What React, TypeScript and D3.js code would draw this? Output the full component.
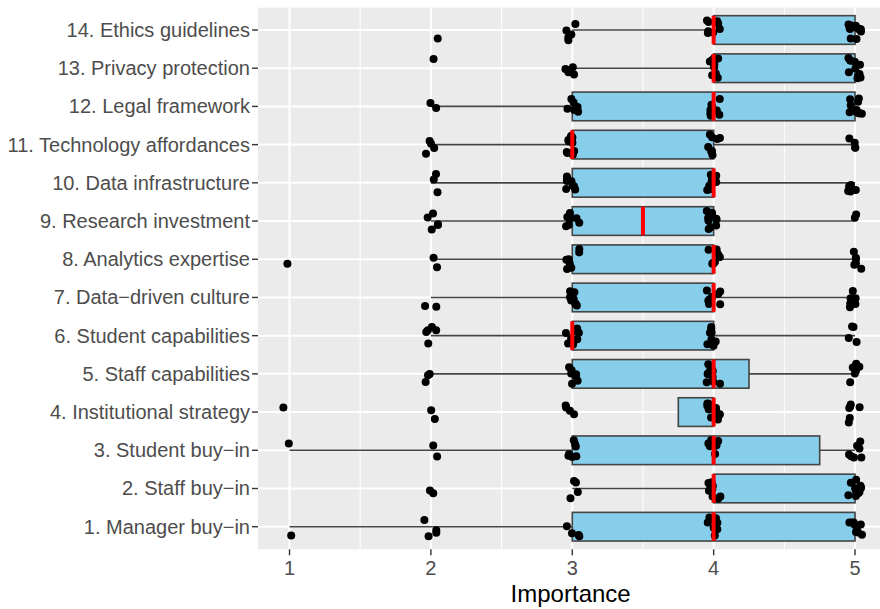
import React from "react";
import * as d3 from "d3";

// Categories (bottom to top order as numbered)
const categories = [
  "1. Manager buy\u2212in",
  "2. Staff buy\u2212in",
  "3. Student buy\u2212in",
  "4. Institutional strategy",
  "5. Staff capabilities",
  "6. Student capabilities",
  "7. Data\u2212driven culture",
  "8. Analytics expertise",
  "9. Research investment",
  "10. Data infrastructure",
  "11. Technology affordances",
  "12. Legal framework",
  "13. Privacy protection",
  "14. Ethics guidelines",
];

// Number of responses at each importance level, per category (same order)
const count1 = [1, 0, 1, 1, 0, 0, 0, 1, 0, 0, 0, 0, 0, 0];
const count2 = [4, 2, 2, 2, 3, 5, 2, 2, 5, 3, 4, 2, 1, 1];
const count3 = [4, 4, 7, 4, 8, 9, 9, 7, 8, 8, 10, 6, 5, 5];
const count4 = [8, 9, 9, 15, 10, 8, 9, 10, 11, 10, 8, 8, 9, 8];
const count5 = [9, 11, 7, 6, 7, 4, 6, 6, 2, 5, 4, 10, 11, 12];

const xTicks = [1, 2, 3, 4, 5];
const xMinor = [1.5, 2.5, 3.5, 4.5];
const xTitle = "Importance";

const W = 880;
const H = 609;
const panel = { left: 258, top: 7.7, bottom: 549.3, right: 890 };

export default function App() {
  const x = d3.scaleLinear().domain([0.777, 5.2]).range([258, 883.3]);
  const y = d3
    .scalePoint<string>()
    .domain(categories.slice().reverse())
    .range([30, 526.7]);
  const step = y.step();
  const boxH = step * 0.75;

  const levels = [count1, count2, count3, count4, count5];
  const rng = d3.randomLcg(0.4213);
  const jitterX = d3.randomUniform.source(rng)(-0.05, 0.05);
  const jitterY = d3.randomUniform.source(rng)(-0.27, 0.27);

  const rows = categories.map((cat, i) => {
    const values: number[] = [];
    levels.forEach((arr, li) => {
      for (let k = 0; k < arr[i]; k++) values.push(li + 1);
    });
    values.sort(d3.ascending);
    const q1 = d3.quantile(values, 0.25)!;
    const med = d3.quantile(values, 0.5)!;
    const q3 = d3.quantile(values, 0.75)!;
    const iqr = q3 - q1;
    const lo = d3.min(values.filter((v) => v >= q1 - 1.5 * iqr))!;
    const hi = d3.max(values.filter((v) => v <= q3 + 1.5 * iqr))!;
    const pts = values.map((v) => ({
      v: v + jitterX(),
      dy: jitterY() * step,
    }));
    return { cat, q1, med, q3, lo, hi, pts };
  });

  const font = "'Liberation Sans', Arial, Helvetica, sans-serif";
  const boxStroke = "#444";

  return (
    <svg
      width={W}
      height={H}
      style={{ position: "absolute", left: 0, top: 0, background: "#fff" }}
      fontFamily={font}
    >
      <defs>
        <clipPath id="pclip">
          <rect
            x={panel.left}
            y={panel.top}
            width={panel.right - panel.left}
            height={panel.bottom - panel.top}
          />
        </clipPath>
      </defs>
      <rect
        x={panel.left}
        y={panel.top}
        width={panel.right - panel.left}
        height={panel.bottom - panel.top}
        fill="#EBEBEB"
      />
      <g clipPath="url(#pclip)">
        {xMinor.map((t) => (
          <line
            key={"mn" + t}
            x1={x(t)}
            x2={x(t)}
            y1={panel.top}
            y2={panel.bottom}
            stroke="#fff"
            strokeWidth={1}
          />
        ))}
        {xTicks.map((t) => (
          <line
            key={"mj" + t}
            x1={x(t)}
            x2={x(t)}
            y1={panel.top}
            y2={panel.bottom}
            stroke="#fff"
            strokeWidth={2}
          />
        ))}
        {categories.map((c) => (
          <line
            key={"hg" + c}
            x1={panel.left}
            x2={panel.right}
            y1={y(c)!}
            y2={y(c)!}
            stroke="#fff"
            strokeWidth={2}
          />
        ))}
        {rows.map((r) => {
          const cy = y(r.cat)!;
          return (
            <g key={"box" + r.cat}>
              {r.lo < r.q1 && (
                <line
                  x1={x(r.lo)}
                  x2={x(r.q1)}
                  y1={cy}
                  y2={cy}
                  stroke={boxStroke}
                  strokeWidth={1.6}
                />
              )}
              {r.hi > r.q3 && (
                <line
                  x1={x(r.q3)}
                  x2={x(r.hi)}
                  y1={cy}
                  y2={cy}
                  stroke={boxStroke}
                  strokeWidth={1.6}
                />
              )}
              <rect
                x={x(r.q1)}
                y={cy - boxH / 2}
                width={x(r.q3) - x(r.q1)}
                height={boxH}
                fill="#87CEEB"
                stroke={boxStroke}
                strokeWidth={1.6}
              />
            </g>
          );
        })}
        {rows.map((r) => {
          const cy = y(r.cat)!;
          return (
            <g key={"pts" + r.cat}>
              {r.pts.map((p, k) => (
                <circle key={k} cx={x(p.v)} cy={cy + p.dy} r={4} fill="#000" />
              ))}
            </g>
          );
        })}
        {rows.map((r) => {
          const cy = y(r.cat)!;
          return (
            <line
              key={"med" + r.cat}
              x1={x(r.med)}
              x2={x(r.med)}
              y1={cy - boxH / 2}
              y2={cy + boxH / 2}
              stroke="#FF0000"
              strokeWidth={4}
            />
          );
        })}
      </g>
      {/* y axis */}
      {categories.map((c) => (
        <g key={"yl" + c}>
          <line
            x1={panel.left - 6}
            x2={panel.left}
            y1={y(c)!}
            y2={y(c)!}
            stroke="#333"
            strokeWidth={1.4}
          />
          <text
            x={panel.left - 8}
            y={y(c)!}
            dy="0.35em"
            textAnchor="end"
            fontSize={20}
            fill="#4D4D4D"
          >
            {c}
          </text>
        </g>
      ))}
      {/* x axis */}
      {xTicks.map((t) => (
        <g key={"xl" + t}>
          <line
            x1={x(t)}
            x2={x(t)}
            y1={panel.bottom}
            y2={panel.bottom + 6}
            stroke="#333"
            strokeWidth={1.4}
          />
          <text
            x={x(t)}
            y={panel.bottom + 26}
            textAnchor="middle"
            fontSize={20}
            fill="#4D4D4D"
          >
            {t}
          </text>
        </g>
      ))}
      <text
        x={(panel.left + 883.3) / 2}
        y={602}
        textAnchor="middle"
        fontSize={24}
        fill="#000"
      >
        {xTitle}
      </text>
    </svg>
  );
}
